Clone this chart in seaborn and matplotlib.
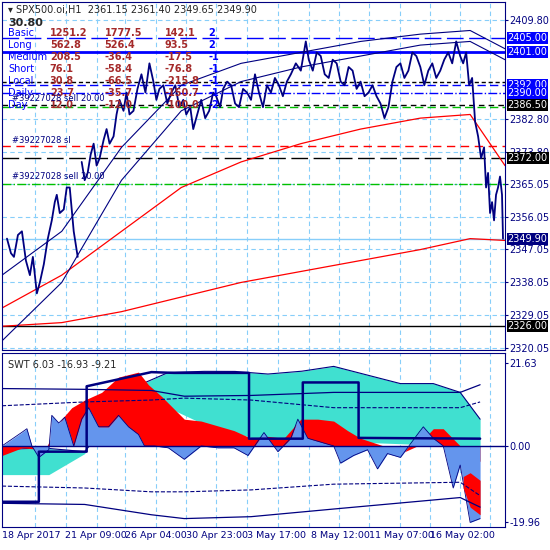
import numpy as np
import pandas as pd
import seaborn as sns
import matplotlib
matplotlib.use('Agg')
import matplotlib.pyplot as plt

sns.set_style('white')
plt.rcParams['font.family'] = ['DejaVu Sans']

NAVY = '#000080'

# price path (bar position, price)
price_x = [5, 9, 12, 16, 20, 24, 28, 31, 35, 38, 42, 46, 50, 53, 55, 58, 62, 65, 68, 72, 76,
           80, 83, 86, 89, 92, 95, 98, 102, 105, 108, 112, 115, 118, 122, 125, 128, 132, 136,
           140, 144, 148, 152, 155, 158, 162, 166, 170, 174, 178, 182, 185, 189, 192, 196,
           200, 204, 208, 212, 215, 219, 222, 226, 230, 234, 238, 242, 246, 250, 254, 258,
           262, 266, 270, 274, 278, 282, 286, 290, 295, 300, 305, 308, 312, 316, 320, 324,
           328, 332, 336, 340, 344, 348, 352, 356, 360, 364, 368, 372, 376, 380, 384, 388,
           392, 396, 400, 404, 408, 412, 416, 420, 424, 428, 432, 436, 440, 444, 448, 452,
           456, 460, 463, 466, 469, 472, 475, 478, 481, 484, 486, 488, 490, 492, 494, 496,
           498, 500, 502, 503]
price = [2350, 2346, 2345, 2351, 2352, 2344, 2340, 2345, 2335, 2338, 2343, 2350, 2355, 2360,
         2362, 2357, 2358, 2364, 2364, 2352, 2345,
         2371, 2366, 2368, 2373, 2376, 2370, 2372, 2377, 2380, 2376, 2378, 2384, 2388, 2385,
         2390, 2384, 2385, 2391, 2395, 2390, 2398, 2393, 2388, 2391, 2392, 2387, 2390, 2392,
         2386, 2388, 2384, 2386, 2380, 2384, 2388, 2383, 2385, 2390, 2389, 2386, 2391, 2393,
         2392, 2387, 2386, 2391, 2390, 2388, 2395, 2390, 2386, 2392, 2390, 2394,
         2392, 2389, 2393, 2395, 2398, 2396, 2404, 2399, 2396, 2401, 2400, 2395, 2394, 2399,
         2398, 2393, 2392, 2397, 2396, 2391, 2393, 2389, 2390, 2392, 2389, 2387, 2383, 2386,
         2393, 2397, 2398, 2394, 2396, 2401, 2400, 2397, 2392, 2396, 2398, 2394, 2396, 2399,
         2401, 2398, 2404, 2400, 2398, 2401, 2392, 2394, 2382, 2378, 2372, 2375, 2364, 2368,
         2357, 2360, 2355, 2362, 2364, 2367, 2362, 2350]

# moving averages / envelopes
ma_x = [0, 60, 120, 180, 240, 300, 360, 420, 470, 505]
ma_slow = [2326, 2327, 2330, 2334, 2338, 2341, 2344, 2347, 2350, 2349.5]
ma_fast = [2331, 2340, 2352, 2364, 2371, 2376, 2380, 2383, 2384, 2370]
env_up = [2340, 2352, 2375, 2392, 2398, 2401, 2404, 2406, 2407, 2402]
env_mid = [2322, 2338, 2366, 2385, 2393, 2397, 2400, 2403, 2404, 2399]

# horizontal levels: price, colour, style, width
levels = [(2405.0, 'blue', (0, (12, 4)), 1), (2401.0, 'blue', '-', 2),
          (2393.0, 'black', (0, (3, 2)), 1), (2392.0, 'blue', (0, (6, 3)), 1),
          (2390.0, 'blue', '-.', 1), (2386.5, 'black', (0, (4, 3)), 1),
          (2386.0, '#00c000', (0, (6, 3)), 1), (2375.5, 'red', (0, (6, 4)), 1),
          (2372.0, 'black', (0, (12, 4)), 1), (2365.05, '#00c000', '-.', 1),
          (2349.9, '#87cefa', '-', 1), (2326.0, 'black', '-', 1)]
boxed = [(2405.0, 'blue'), (2401.0, 'blue'), (2392.0, 'blue'), (2390.0, 'blue'),
         (2386.5, 'black'), (2372.0, 'black'), (2349.9, NAVY), (2326.0, 'black')]
price_ticks = [2409.80, 2382.80, 2373.80, 2365.05, 2356.05, 2347.05, 2338.05, 2329.05, 2320.05]

# info table
rows = ['Basic', 'Long', 'Medium', 'Short', 'Local', 'Daily', 'Day']
col1 = ['1251.2', '562.8', '208.5', '76.1', '30.8', '23.7', '12.0']
col2 = ['1777.5', '526.4', '-36.4', '-58.4', '-66.5', '-35.7', '-12.0']
col3 = ['142.1', '93.5', '-17.5', '-76.8', '-215.8', '-150.7', '-100.0']
col4 = ['2', '2', '-1', '-1', '-1', '-1', '-2']

# SWT oscillator, each series with its own bar positions
blue_x = [0, 17, 25, 30, 37, 47, 50, 57, 63, 72, 80, 87, 97, 107, 117, 127, 137, 143, 153,
          167, 183, 200, 217, 233, 247, 263, 277, 290, 297, 307, 333, 340, 353, 367, 377,
          387, 400, 417, 423, 433, 443, 453, 460, 470, 480]
blue_v = [0, 3, 4.5, 0, -3, -1, 8, 6, 7.5, 0, 7, 10, 5, 5, 8, 5, 3, 0, 0, -0.5, -3.5, 0,
          -0.5, -0.5, -2.5, 3.5, -1.5, 2, 7, 2, 0, -4.5, -2.5, -1, -6, -2, -3, 3, 5, 2, 0,
          -11, -5, -20, -19]
red_x = [0, 20, 43, 60, 70, 83, 100, 117, 137, 147, 160, 183, 200, 233, 250, 267, 283, 300,
         317, 333, 347, 360, 383, 400, 417, 433, 443, 460, 467]
red_top = [-2.5, -0.5, -1, 7, 10, 12, 14, 18, 19.3, 16, 13, 7, 6.5, 4, 2, 2.5, 2, 7, 7, 6.5,
           4, 2, 0, -2, 0, 4.5, 4.5, 0, -4]
end_x = [463, 470, 480]
end_hi = [-8, -7, -9]
end_lo = [-11, -16, -18]
teal_x = [0, 40, 83, 100, 117, 143, 167, 200, 233, 267, 300, 333, 367, 400, 433, 460, 480]
teal_top = [-1, -0.5, -1.5, 4, 10, 16.5, 19.2, 19.5, 19.5, 18.8, 19.5, 20.8, 18.5, 16.3,
            16.3, 14, 7]
teal_bx = [0, 47, 83, 100, 117, 143, 167, 200, 253, 460, 480]
teal_bot = [-7.5, -7.5, -2, 6, 10, 13, 10, 6, 2, 0, 0]
step_x = [0, 37, 37, 85, 85, 150, 173, 248, 248, 302, 302, 358, 358, 480]
step_v = [-14.6, -14.6, -1.5, -1.5, 15.6, 19.3, 19.1, 19.1, 1.9, 1.9, 16.6, 16.6, 2.1, 1.9]
band_x = [0, 83, 150, 183, 250, 333, 460, 480]
band_up = [15, 14.8, 14.5, 13, 13.2, 14, 14, 16]
band_lo = [-15, -15.3, -18, -19, -18.5, -16.5, -13.5, -16]
dash_up = [10.5, 11.5, 12, 12.5, 12, 10, 10, 11.5]
dash_lo = [-10.5, -11, -12, -12, -11.5, -10, -9.5, -13]

date_x = [0, 63, 123, 185, 246, 310, 368, 430]
date_lbl = ['18 Apr 2017', '21 Apr 09:00', '26 Apr 04:00', '30 Apr 23:00', '3 May 17:00',
            '8 May 12:00', '11 May 07:00', '16 May 02:00']
grid_x = [33, 64, 95, 123, 155, 185, 215, 246, 277, 308, 338, 368, 400, 430, 460, 490]

fig = plt.figure(figsize=(5.5, 5.5), dpi=100)
ax = fig.add_axes([2 / 550, 200 / 550, 503 / 550, 348 / 550])
ax2 = fig.add_axes([2 / 550, 23 / 550, 503 / 550, 174 / 550])

# top panel
for g in grid_x:
    ax.axvline(g, color='#87cefa', ls=(0, (4, 3)), lw=0.8, zorder=0)
for t in price_ticks:
    ax.axhline(t, color='#87cefa', ls=(0, (4, 3)), lw=0.8, zorder=0)
for p, c, s, w in levels:
    ax.axhline(p, color=c, ls=s, lw=w, zorder=1)
sns.lineplot(x=ma_x, y=ma_slow, color='red', lw=0.9, ax=ax)
sns.lineplot(x=ma_x, y=ma_fast, color='red', lw=0.9, ax=ax)
sns.lineplot(x=ma_x, y=env_up, color=NAVY, lw=0.8, ax=ax)
sns.lineplot(x=ma_x, y=env_mid, color=NAVY, lw=0.8, ax=ax)
pdf = pd.DataFrame({'x': price_x, 'p': price})
ax.plot(pdf.x[:21], pdf.p[:21], color=NAVY, lw=1.3)
ax.plot(pdf.x[21:], pdf.p[21:], color=NAVY, lw=1.3)
ax.set_xlim(0, 505)
ax.set_ylim(2319.5, 2414.8)
ax.yaxis.tick_right()
ax.set_yticks(price_ticks)
ax.set_yticklabels([f'{t:.2f}' for t in price_ticks], fontsize=7)
ax.set_xticks([])
for p, c in boxed:
    ax.text(1.005, p, f'{p:.2f}', transform=ax.get_yaxis_transform(), color='white',
            fontsize=7, va='center', bbox=dict(boxstyle='square,pad=0.1', fc=c, ec='none'))
ax.text(0.012, 0.99, '▾ SPX500.oi,H1  2361.15 2361.40 2349.65 2349.90',
        transform=ax.transAxes, fontsize=7, va='top')
ax.text(0.012, 0.955, '30.80', transform=ax.transAxes, fontsize=8, weight='bold', va='top')
for i, r in enumerate(rows):
    y = 0.925 - i * 0.0345
    ax.text(0.012, y, r, transform=ax.transAxes, fontsize=7, color='blue', va='top')
    for xx, v in zip([0.095, 0.204, 0.323], [col1[i], col2[i], col3[i]]):
        ax.text(xx, y, v, transform=ax.transAxes, fontsize=7, color='#a52a2a',
                weight='bold', va='top')
    ax.text(0.41, y, col4[i], transform=ax.transAxes, fontsize=7, color='blue',
            weight='bold', va='top')
ax.text(0.02, 0.715, '#39227028 sell 20.00', transform=ax.transAxes, fontsize=6, color=NAVY)
ax.text(0.02, 0.595, '#39227028 sl', transform=ax.transAxes, fontsize=6, color=NAVY)
ax.text(0.02, 0.49, '#39227028 sell 20.00', transform=ax.transAxes, fontsize=6, color=NAVY)

# bottom panel
grid = np.arange(0, 481)
t_top = np.interp(grid, teal_x, teal_top)
t_bot = np.interp(grid, teal_bx, teal_bot)
r_top = np.interp(grid, red_x, red_top)
b_val = np.interp(grid, blue_x, blue_v)
for g in grid_x:
    ax2.axvline(g, color='#87cefa', ls=(0, (4, 3)), lw=0.8, zorder=0)
ax2.fill_between(grid, t_bot, t_top, color='#40e0d0', lw=0, zorder=1)
ax2.plot(grid, t_top, color=NAVY, lw=0.8, zorder=1)
ax2.fill_between(grid, 0, r_top, color='red', lw=0, zorder=2)
ax2.fill_between(grid, 0, b_val, color='#6495ed', lw=0, zorder=3)
ax2.plot(grid, b_val, color=NAVY, lw=0.6, zorder=3)
ax2.fill_between(end_x, end_lo, end_hi, color='red', lw=0, zorder=3)
ax2.axhline(0, color=NAVY, lw=1, zorder=4)
ax2.plot(band_x, band_up, color=NAVY, lw=0.9, zorder=4)
ax2.plot(band_x, band_lo, color=NAVY, lw=0.9, zorder=4)
ax2.plot(band_x, dash_up, color=NAVY, lw=0.8, ls='--', zorder=4)
ax2.plot(band_x, dash_lo, color=NAVY, lw=0.8, ls='--', zorder=4)
ax2.plot(step_x, step_v, color=NAVY, lw=1.8, zorder=5)
ax2.set_xlim(0, 505)
ax2.set_ylim(-21.2, 24.3)
ax2.yaxis.tick_right()
ax2.set_yticks([21.63, 0.0, -19.96])
ax2.set_yticklabels(['21.63', '0.00', '-19.96'], fontsize=7)
ax2.set_xticks(date_x)
ax2.set_xticklabels(date_lbl, fontsize=6.8, ha='left')
ax2.text(0.012, 0.96, 'SWT 6.03 -16.93 -9.21', transform=ax2.transAxes, fontsize=7, va='top')

for a in (ax, ax2):
    for s in a.spines.values():
        s.set_color(NAVY)
        s.set_visible(True)
    a.tick_params(colors=NAVY, length=2, pad=1, labelcolor=NAVY)

fig.savefig('out.png', dpi=100)
